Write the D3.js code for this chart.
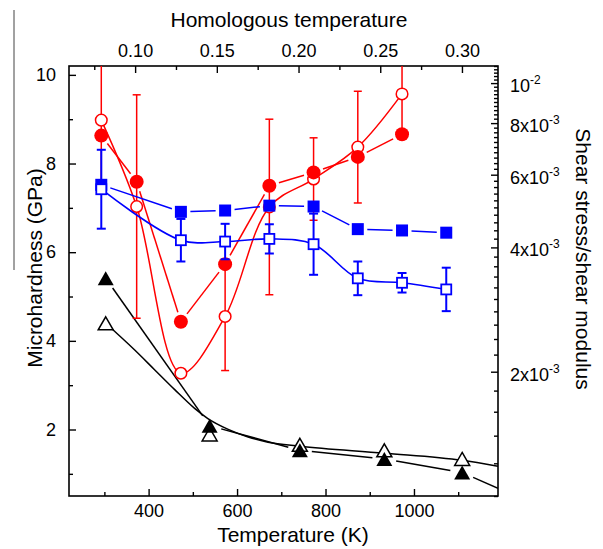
<!DOCTYPE html>
<html>
<head>
<meta charset="utf-8">
<script src="https://cdn.jsdelivr.net/npm/d3@7"></script>
<style>
  body { margin: 0; background: #fff; }
  svg { font-family: 'Liberation Sans', Arial, sans-serif; display: block; }
</style>
</head>
<body>
<svg></svg>
<script>
let width = 603
let height = 549
let plot = { left: 69, right: 498, top: 66, bottom: 496 }

// red circles: hardness (GPa)
let tempRed = [293, 373, 473, 573, 673, 773, 873, 973]
let hardRedFilled = [8.63, 7.59, 4.43, 5.73, 7.5, 7.8, 8.15, 8.66]
let hardRedOpen = [8.98, 7.03, 3.27, 4.55, 7.02, 7.65, 8.37, 9.57]
let errRedOpen = [1.35, 2.52, 0.1, 1.22, 1.98, 0.93, 1.26, 0.95]

// blue squares: hardness (GPa)
let tempBlue = [293, 473, 573, 673, 773, 873, 973, 1073]
let hardBlueFilled = [7.52, 6.91, 6.94, 7.05, 7.03, 6.52, 6.49, 6.44]
let hardBlueOpen = [7.42, 6.27, 6.24, 6.30, 6.18, 5.41, 5.31, 5.16]
let errBlueOpen = [0.89, 0.48, 0.4, 0.33, 0.69, 0.38, 0.22, 0.49]

// black triangles: shear stress / shear modulus
let tempTri = [303, 538, 742, 933, 1109]
let ratioFilled = [3.37e-3, 1.48e-3, 1.29e-3, 1.23e-3, 1.14e-3]
let ratioOpen = [2.62e-3, 1.41e-3, 1.33e-3, 1.29e-3, 1.23e-3]
let filledTailT = 1190
let filledTailV = 1.044e-3
// smooth curve through the open triangles
let fitOpenT = [303, 368, 414, 459, 504, 534, 580, 625, 670, 742, 933, 1109, 1190]
let fitOpenV = [2.62e-3, 2.26e-3, 2.02e-3, 1.81e-3, 1.63e-3, 1.54e-3, 1.45e-3, 1.39e-3, 1.35e-3, 1.32e-3, 1.27e-3, 1.22e-3, 1.18e-3]

let xTicks = [400, 600, 800, 1000]
let xMinor = [300, 500, 700, 900, 1100]
let yTicks = [2, 4, 6, 8, 10]
let yMinor = [1, 3, 5, 7, 9]
let meltingT = 3695
let topTicks = [0.10, 0.15, 0.20, 0.25, 0.30]
let topMinor = [0.075, 0.125, 0.175, 0.225, 0.275]
let rightTicks = [2e-3, 4e-3, 6e-3, 8e-3, 1e-2]
let rightBase = ['2x10', '4x10', '6x10', '8x10', '10']
let rightExp = ['-3', '-3', '-3', '-3', '-2']
let rightMinor = d3.range(5, 56).filter(i => i % 10 !== 0).map(i => i * 0.2e-3)

let red = '#ff0000'
let blue = '#0000ff'

let x = d3.scaleLinear().domain([220, 1190]).range([plot.left, plot.right])
let xTop = d3.scaleLinear().domain([220 / meltingT, 1190 / meltingT]).range([plot.left, plot.right])
let y = d3.scaleLinear().domain([0.5, 10.2]).range([plot.bottom, plot.top])
let yRight = d3.scaleLog().domain([1e-3, 1.1e-2]).range([plot.bottom, plot.top])

let svg = d3.select('svg')
    .attr('width', width)
    .attr('height', height)

svg.append('rect').attr('width', width).attr('height', height).attr('fill', '#fff')

// stray edge line from the scanned page
svg.append('line')
    .attr('x1', 14).attr('x2', 14).attr('y1', 10).attr('y2', 270)
    .attr('stroke', '#444').attr('stroke-width', 1)

svg.append('clipPath').attr('id', 'clip')
  .append('rect')
    .attr('x', plot.left).attr('y', plot.top)
    .attr('width', plot.right - plot.left).attr('height', plot.bottom - plot.top)

function styleAxis(g) {
  g.select('.domain').remove()
  g.selectAll('.tick line').attr('stroke', '#000').attr('stroke-width', 1.4)
  g.selectAll('text').attr('font-size', 18).attr('fill', '#000')
    .attr('font-family', "'Liberation Sans', Arial, sans-serif")
}

// bottom
svg.append('g').attr('transform', `translate(0,${plot.bottom})`)
  .call(d3.axisBottom(x).tickValues(xTicks).tickSize(-7).tickPadding(8).tickFormat(d3.format('d')))
  .call(styleAxis)
svg.append('g').attr('transform', `translate(0,${plot.bottom})`)
  .call(d3.axisBottom(x).tickValues(xMinor).tickSize(-4).tickFormat(''))
  .call(styleAxis)

// top
svg.append('g').attr('transform', `translate(0,${plot.top})`)
  .call(d3.axisTop(xTop).tickValues(topTicks).tickSize(-7).tickPadding(9).tickFormat(d3.format('.2f')))
  .call(styleAxis)
svg.append('g').attr('transform', `translate(0,${plot.top})`)
  .call(d3.axisTop(xTop).tickValues(topMinor).tickSize(-4).tickFormat(''))
  .call(styleAxis)

// left
svg.append('g').attr('transform', `translate(${plot.left},0)`)
  .call(d3.axisLeft(y).tickValues(yTicks).tickSize(-7).tickPadding(13).tickFormat(d3.format('d')))
  .call(styleAxis)
svg.append('g').attr('transform', `translate(${plot.left},0)`)
  .call(d3.axisLeft(y).tickValues(yMinor).tickSize(-4).tickFormat(''))
  .call(styleAxis)

// right (log)
svg.append('g').attr('transform', `translate(${plot.right},0)`)
  .call(d3.axisRight(yRight).tickValues(rightTicks).tickSize(-7).tickFormat(''))
  .call(styleAxis)
svg.append('g').attr('transform', `translate(${plot.right},0)`)
  .call(d3.axisRight(yRight).tickValues(rightMinor).tickSize(-4).tickFormat(''))
  .call(styleAxis)

let rightLabels = svg.append('g')
  .selectAll('text')
  .data(rightTicks)
  .enter()
  .append('text')
    .attr('x', plot.right + 12)
    .attr('y', d => yRight(d))
    .attr('dy', '0.5em')
    .attr('font-size', 18)
rightLabels.append('tspan').text((d, i) => rightBase[i])
rightLabels.append('tspan').attr('dy', -8).attr('font-size', 12).text((d, i) => rightExp[i])

// frame
svg.append('rect')
    .attr('x', plot.left).attr('y', plot.top)
    .attr('width', plot.right - plot.left).attr('height', plot.bottom - plot.top)
    .attr('fill', 'none').attr('stroke', '#000').attr('stroke-width', 1.6)

// titles
svg.append('text')
    .attr('x', 289).attr('y', 27)
    .attr('text-anchor', 'middle').attr('font-size', 21)
    .text('Homologous temperature')
svg.append('text')
    .attr('x', 293).attr('y', 542)
    .attr('text-anchor', 'middle').attr('font-size', 21)
    .text('Temperature (K)')
svg.append('text')
    .attr('transform', 'translate(42,268) rotate(-90)')
    .attr('text-anchor', 'middle').attr('font-size', 21)
    .text('Microhardness (GPa)')
svg.append('text')
    .attr('transform', 'translate(576,259) rotate(90)')
    .attr('text-anchor', 'middle').attr('font-size', 21)
    .text('Shear stress/shear modulus')

let chart = svg.append('g').attr('clip-path', 'url(#clip)')

// straight segments that stop short of each marker
function gapped(pts, gap) {
  let segs = []
  for (let i = 0; i < pts.length - 1; i++) {
    let a = pts[i], b = pts[i + 1]
    let dx = b[0] - a[0], dy = b[1] - a[1]
    let len = Math.hypot(dx, dy)
    let g0 = a[2] ? gap : 0, g1 = b[2] ? gap : 0
    if (len <= g0 + g1) continue
    segs.push([a[0] + dx * g0 / len, a[1] + dy * g0 / len, b[0] - dx * g1 / len, b[1] - dy * g1 / len])
  }
  return segs
}

function drawSegs(segs, color) {
  chart.append('g').selectAll('line')
    .data(segs)
    .enter()
    .append('line')
      .attr('x1', d => d[0]).attr('y1', d => d[1])
      .attr('x2', d => d[2]).attr('y2', d => d[3])
      .attr('stroke', color).attr('stroke-width', 1.5)
}

function triPath(w, h) {
  return `M0,${-h / 2}L${w / 2},${h / 2}L${-w / 2},${h / 2}Z`
}

let smooth = d3.curveCatmullRom.alpha(0.5)

// ---- black triangles
let filledTriPts = tempTri.map((t, i) => [x(t), yRight(ratioFilled[i]), true])
filledTriPts.push([x(filledTailT), yRight(filledTailV), false])
drawSegs(gapped(filledTriPts, 12), '#000')

chart.append('path')
    .datum(fitOpenT.map((t, i) => [t, fitOpenV[i]]))
    .attr('fill', 'none').attr('stroke', '#000').attr('stroke-width', 1.5)
    .attr('d', d3.line().x(d => x(d[0])).y(d => yRight(d[1])).curve(d3.curveMonotoneX))

chart.append('g').selectAll('path')
  .data(tempTri)
  .enter()
  .append('path')
    .attr('transform', (d, i) => `translate(${x(d)},${yRight(ratioOpen[i])})`)
    .attr('d', triPath(15, 13))
    .attr('fill', '#fff').attr('stroke', '#000').attr('stroke-width', 1.5)

chart.append('g').selectAll('path')
  .data(tempTri)
  .enter()
  .append('path')
    .attr('transform', (d, i) => `translate(${x(d)},${yRight(ratioFilled[i])})`)
    .attr('d', triPath(16, 14))
    .attr('fill', '#000')

// ---- red open circles
chart.append('path')
    .datum(tempRed.map((t, i) => [t, hardRedOpen[i]]))
    .attr('fill', 'none').attr('stroke', red).attr('stroke-width', 1.5)
    .attr('d', d3.line().x(d => x(d[0])).y(d => y(d[1])).curve(smooth))

let redErr = chart.append('g').selectAll('g')
  .data(tempRed)
  .enter()
  .append('g')
    .attr('stroke', red).attr('stroke-width', 1.5)
redErr.append('line')
    .attr('x1', d => x(d)).attr('x2', d => x(d))
    .attr('y1', (d, i) => y(hardRedOpen[i] + errRedOpen[i]))
    .attr('y2', (d, i) => y(hardRedOpen[i] - errRedOpen[i]))
redErr.selectAll('.cap')
  .data((d, i) => [[d, hardRedOpen[i] + errRedOpen[i]], [d, hardRedOpen[i] - errRedOpen[i]]])
  .enter()
  .append('line')
    .classed('cap', true)
    .attr('x1', d => x(d[0]) - 4).attr('x2', d => x(d[0]) + 4)
    .attr('y1', d => y(d[1])).attr('y2', d => y(d[1]))

chart.append('g').selectAll('circle')
  .data(tempRed)
  .enter()
  .append('circle')
    .attr('cx', d => x(d))
    .attr('cy', (d, i) => y(hardRedOpen[i]))
    .attr('r', 5.8)
    .attr('fill', '#fff').attr('stroke', red).attr('stroke-width', 1.5)

// ---- red filled circles
drawSegs(gapped(tempRed.map((t, i) => [x(t), y(hardRedFilled[i]), true]), 10), red)

chart.append('g').selectAll('circle')
  .data(tempRed)
  .enter()
  .append('circle')
    .attr('cx', d => x(d))
    .attr('cy', (d, i) => y(hardRedFilled[i]))
    .attr('r', 7)
    .attr('fill', red)

// ---- blue filled squares
drawSegs(gapped(tempBlue.map((t, i) => [x(t), y(hardBlueFilled[i]), true]), 9.5), blue)

chart.append('g').selectAll('rect')
  .data(tempBlue)
  .enter()
  .append('rect')
    .attr('x', d => x(d) - 6)
    .attr('y', (d, i) => y(hardBlueFilled[i]) - 6)
    .attr('width', 12).attr('height', 12)
    .attr('fill', blue)

// ---- blue open squares
chart.append('path')
    .datum(tempBlue.map((t, i) => [t, hardBlueOpen[i]]))
    .attr('fill', 'none').attr('stroke', blue).attr('stroke-width', 1.6)
    .attr('d', d3.line().x(d => x(d[0])).y(d => y(d[1])).curve(smooth))

let blueErr = chart.append('g').selectAll('g')
  .data(tempBlue)
  .enter()
  .append('g')
    .attr('stroke', blue).attr('stroke-width', 2)
blueErr.append('line')
    .attr('x1', d => x(d)).attr('x2', d => x(d))
    .attr('y1', (d, i) => y(hardBlueOpen[i] + errBlueOpen[i]))
    .attr('y2', (d, i) => y(hardBlueOpen[i] - errBlueOpen[i]))
blueErr.selectAll('.cap')
  .data((d, i) => [[d, hardBlueOpen[i] + errBlueOpen[i]], [d, hardBlueOpen[i] - errBlueOpen[i]]])
  .enter()
  .append('line')
    .classed('cap', true)
    .attr('x1', d => x(d[0]) - 4.5).attr('x2', d => x(d[0]) + 4.5)
    .attr('y1', d => y(d[1])).attr('y2', d => y(d[1]))

chart.append('g').selectAll('rect')
  .data(tempBlue)
  .enter()
  .append('rect')
    .attr('x', d => x(d) - 5)
    .attr('y', (d, i) => y(hardBlueOpen[i]) - 5)
    .attr('width', 10).attr('height', 10)
    .attr('fill', '#fff').attr('stroke', blue).attr('stroke-width', 1.8)
</script>
</body>
</html>
